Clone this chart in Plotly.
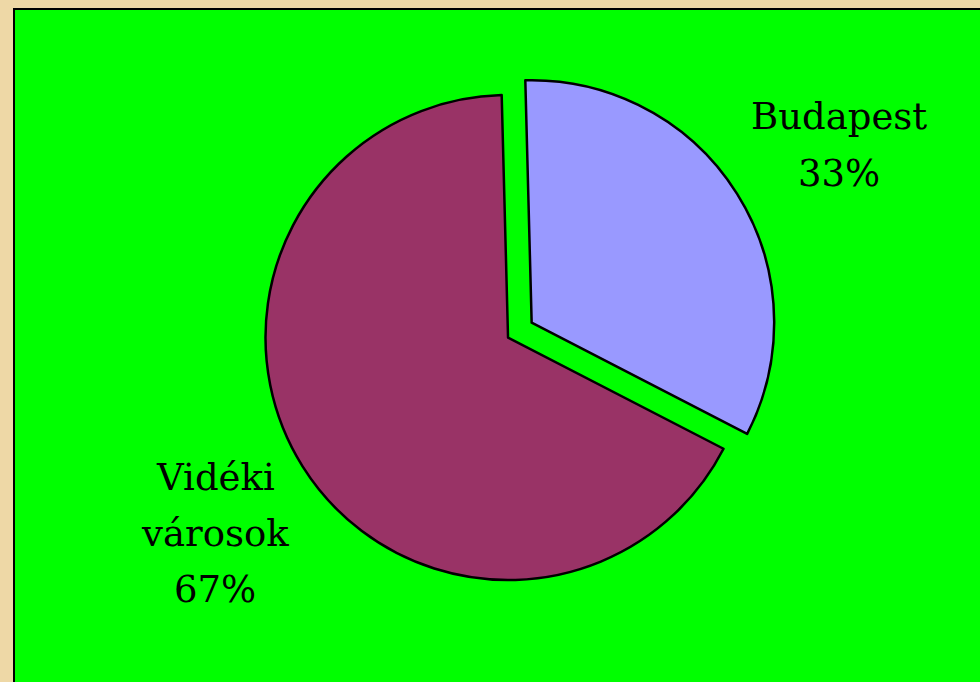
import plotly.graph_objects as go

W, H = 980, 682

labels = ["Budapest", "Vidéki városok"]
values = [33, 67]
colors = ["#9999FF", "#993366"]
pulls = [0.115, 0]

# label placement (pixel centres) and line breaks
label_lines = [["Budapest", "33%"], ["Vidéki", "városok", "67%"]]
label_x = [839, 215]
label_y0 = [117, 477]
line_gap = 56
font_size = 37


def px(x):
    return x / W


def py(y):
    return 1 - y / H


fig = go.Figure()
fig.add_trace(go.Pie(
    labels=labels,
    values=values,
    sort=False,
    direction="clockwise",
    rotation=-1.5,
    pull=pulls,
    marker=dict(colors=colors, line=dict(color="black", width=2.5)),
    textinfo="none",
    hoverinfo="label+percent",
    showlegend=False,
    domain=dict(x=[0.2184, 0.8184], y=[0.1086, 0.9016]),
))

annotations = []
for lines, cx, y0 in zip(label_lines, label_x, label_y0):
    for i, t in enumerate(lines):
        annotations.append(dict(
            x=px(cx), y=py(y0 + i * line_gap), xref="paper", yref="paper",
            text=t, showarrow=False, xanchor="center", yanchor="middle",
            font=dict(family="DejaVu Serif", size=font_size, color="black"),
        ))

fig.update_layout(
    width=W, height=H,
    margin=dict(l=0, r=0, t=0, b=0),
    paper_bgcolor="#EED8A6",
    plot_bgcolor="#EED8A6",
    shapes=[dict(
        type="rect", xref="paper", yref="paper",
        x0=px(14), x1=1.02, y0=-0.02, y1=py(9),
        fillcolor="#00FF00", line=dict(color="black", width=2), layer="below",
    )],
    annotations=annotations,
)

fig.write_html(
    "out.html",
    config={"displayModeBar": False},
    post_script="document.body.style.margin='0';document.body.style.overflow='hidden';",
)
